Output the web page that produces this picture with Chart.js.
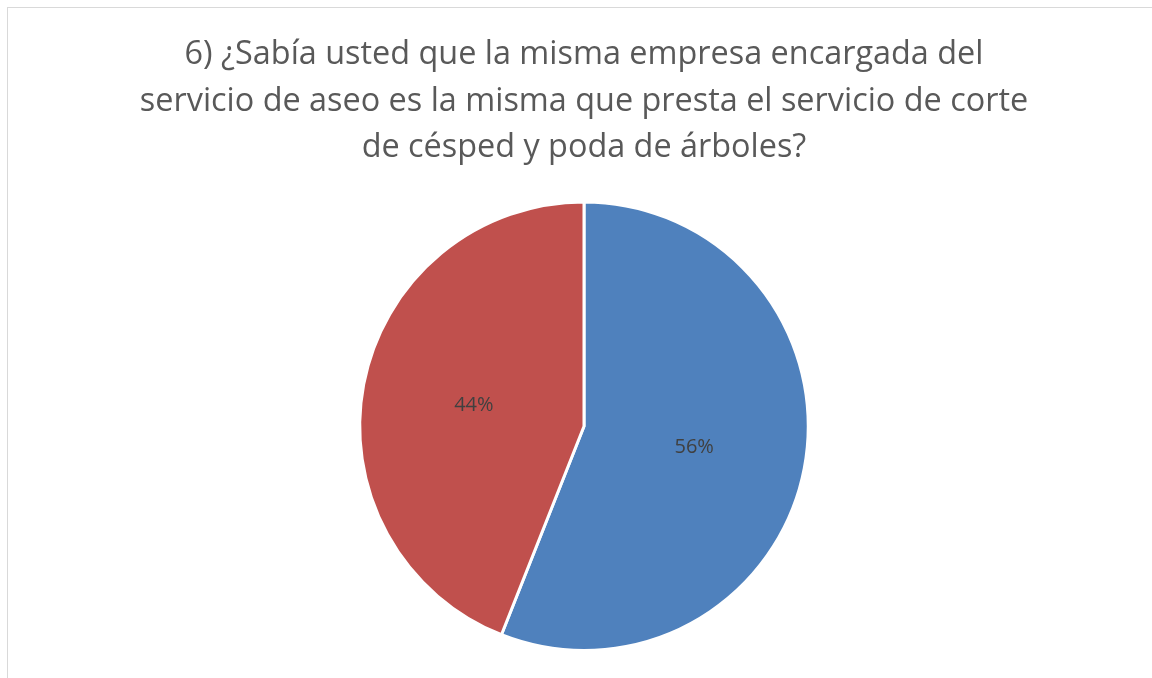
<!DOCTYPE html>
<html lang="es">
<head>
  <meta charset="UTF-8" />
  <title>Corte de césped y poda</title>
  <script src="https://cdn.jsdelivr.net/npm/chart.js"></script>
  <style>
    html, body { margin: 0; padding: 0; background: #fff; overflow: hidden; }
    #marco {
      position: absolute; left: 7px; top: 7px;
      width: 1152px; height: 678px;
      border: 1px solid #d9d9d9;
    }
  </style>
</head>
<body>
  <div id="marco"><canvas id="pieChart"></canvas></div>

  <script>
    // Datos del gráfico
    const titulo = [
      '6) ¿Sabía usted que la misma empresa encargada del',
      'servicio de aseo es la misma que presta el servicio de corte',
      'de césped y poda de árboles?'
    ];
    const categorias = ['Sí', 'No'];
    const valores = [56, 44];
    const colores = ['#4F81BD', '#C0504D'];

    // Etiquetas de porcentaje dentro de cada porción
    const etiquetas = {
      id: 'etiquetas',
      afterDatasetsDraw(chart) {
        const ctx = chart.ctx;
        const total = valores.reduce((a, b) => a + b, 0);
        const meta = chart.getDatasetMeta(0);
        ctx.save();
        ctx.font = '20px "Open Sans"';
        ctx.fillStyle = '#404040';
        ctx.textAlign = 'center';
        ctx.textBaseline = 'middle';
        meta.data.forEach((arc, i) => {
          const p = arc.tooltipPosition();
          ctx.fillText(Math.round(valores[i] / total * 100) + '%', p.x, p.y);
        });
        ctx.restore();
      }
    };

    new Chart(document.getElementById('pieChart'), {
      type: 'pie',
      data: {
        labels: categorias,
        datasets: [{
          data: valores,
          backgroundColor: colores,
          borderColor: '#ffffff',
          borderWidth: 3
        }]
      },
      options: {
        responsive: true,
        maintainAspectRatio: false,
        animation: false,
        layout: { padding: { bottom: 34 } },
        plugins: {
          legend: { display: false },
          tooltip: { enabled: false },
          title: {
            display: true,
            text: titulo,
            color: '#595959',
            font: { family: '"Open Sans"', size: 32.4, weight: 'normal', lineHeight: 1.435 },
            padding: { top: 24, bottom: 29 }
          }
        }
      },
      plugins: [etiquetas]
    });
  </script>
</body>
</html>
